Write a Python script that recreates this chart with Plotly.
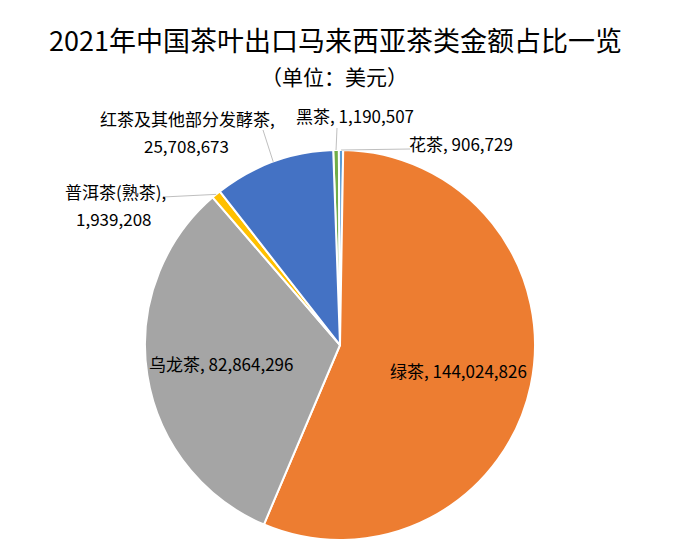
import math
import plotly.graph_objects as go

# 2021 China tea exports to Malaysia, by tea type (USD)

W, H = 689, 557

tea = ['黑茶', '花茶', '绿茶', '乌龙茶', '普洱茶(熟茶)', '红茶及其他部分发酵茶']
amount = [1190507, 906729, 144024826, 82864296, 1939208, 25708673]
colors = ['#70AD47', '#5B9BD5', '#ED7D31', '#A5A5A5', '#FFC000', '#4472C4']

# pie geometry in screen pixels
CX, CY, R = 340, 345, 195
START = -2  # first slice starts 2 degrees left of 12 o'clock
OFF = 8     # page body margin that shifts the figure

FONT = 'Noto Sans CJK SC'
LABEL_SIZE = 17


def paper(px, py):
    return (px - OFF) / W, 1 - (py - OFF) / H


def edge(angle, r):
    a = math.radians(angle)
    return CX + r * math.sin(a), CY - r * math.cos(a)


# mid angle of every slice, clockwise from 12 o'clock
total = sum(amount)
mids = []
acc = START
for v in amount:
    span = v / total * 360
    mids.append(acc + span / 2)
    acc += span

fig = go.Figure()

x0d, y1d = paper(CX - R, CY - R)
x1d, y0d = paper(CX + R, CY + R)

fig.add_trace(
    go.Pie(
        labels=tea,
        values=amount,
        sort=False,
        direction='clockwise',
        rotation=START,
        marker=dict(colors=colors, line=dict(color='white', width=2)),
        textinfo='none',
        hoverinfo='label+value',
        showlegend=False,
        domain=dict(x=[x0d, x1d], y=[y0d, y1d]),
    )
)


def fmt(v):
    return f'{v:,}'


def label(px, py, txt, size=LABEL_SIZE):
    x, y = paper(px, py)
    return dict(
        x=x, y=y, xref='paper', yref='paper', showarrow=False,
        xanchor='center', yanchor='middle',
        text=txt, font=dict(size=size, color='#000000', family=FONT),
    )


annotations = []
shapes = []

# labels inside the two big slices
for i in (2, 3):
    px, py = edge(mids[i], 0.62 * R)
    annotations.append(label(px, py, f'{tea[i]}, {fmt(amount[i])}'))

# outside labels: (index, text lines, line centres, leader start)
outside = [
    (5, [f'{tea[5]},', fmt(amount[5])], [(187, 118), (186, 145)], (263, 130)),
    (4, [f'{tea[4]},', fmt(amount[4])], [(115, 191), (114, 218)], (163, 197)),
    (0, [f'{tea[0]}, {fmt(amount[0])}'], [(355, 116)], (337, 128)),
    (1, [f'{tea[1]}, {fmt(amount[1])}'], [(461, 143)], (410, 149)),
]

for i, lines, spots, start in outside:
    for txt, (px, py) in zip(lines, spots):
        annotations.append(label(px, py, txt))
    xa, ya = paper(*start)
    xb, yb = paper(*edge(mids[i], R))
    shapes.append(dict(
        type='line', xref='paper', yref='paper',
        x0=xa, y0=ya, x1=xb, y1=yb,
        line=dict(color='#BFBFBF', width=1),
    ))

# title and subtitle
annotations.append(label(335, 40, '2021年中国茶叶出口马来西亚茶类金额占比一览', size=27))
annotations.append(label(334, 76, '（单位：美元）', size=21))

fig.update_layout(
    width=W,
    height=H,
    margin=dict(l=0, r=0, t=0, b=0),
    paper_bgcolor='white',
    plot_bgcolor='white',
    annotations=annotations,
    shapes=shapes,
)

fig.write_html('out.html')
